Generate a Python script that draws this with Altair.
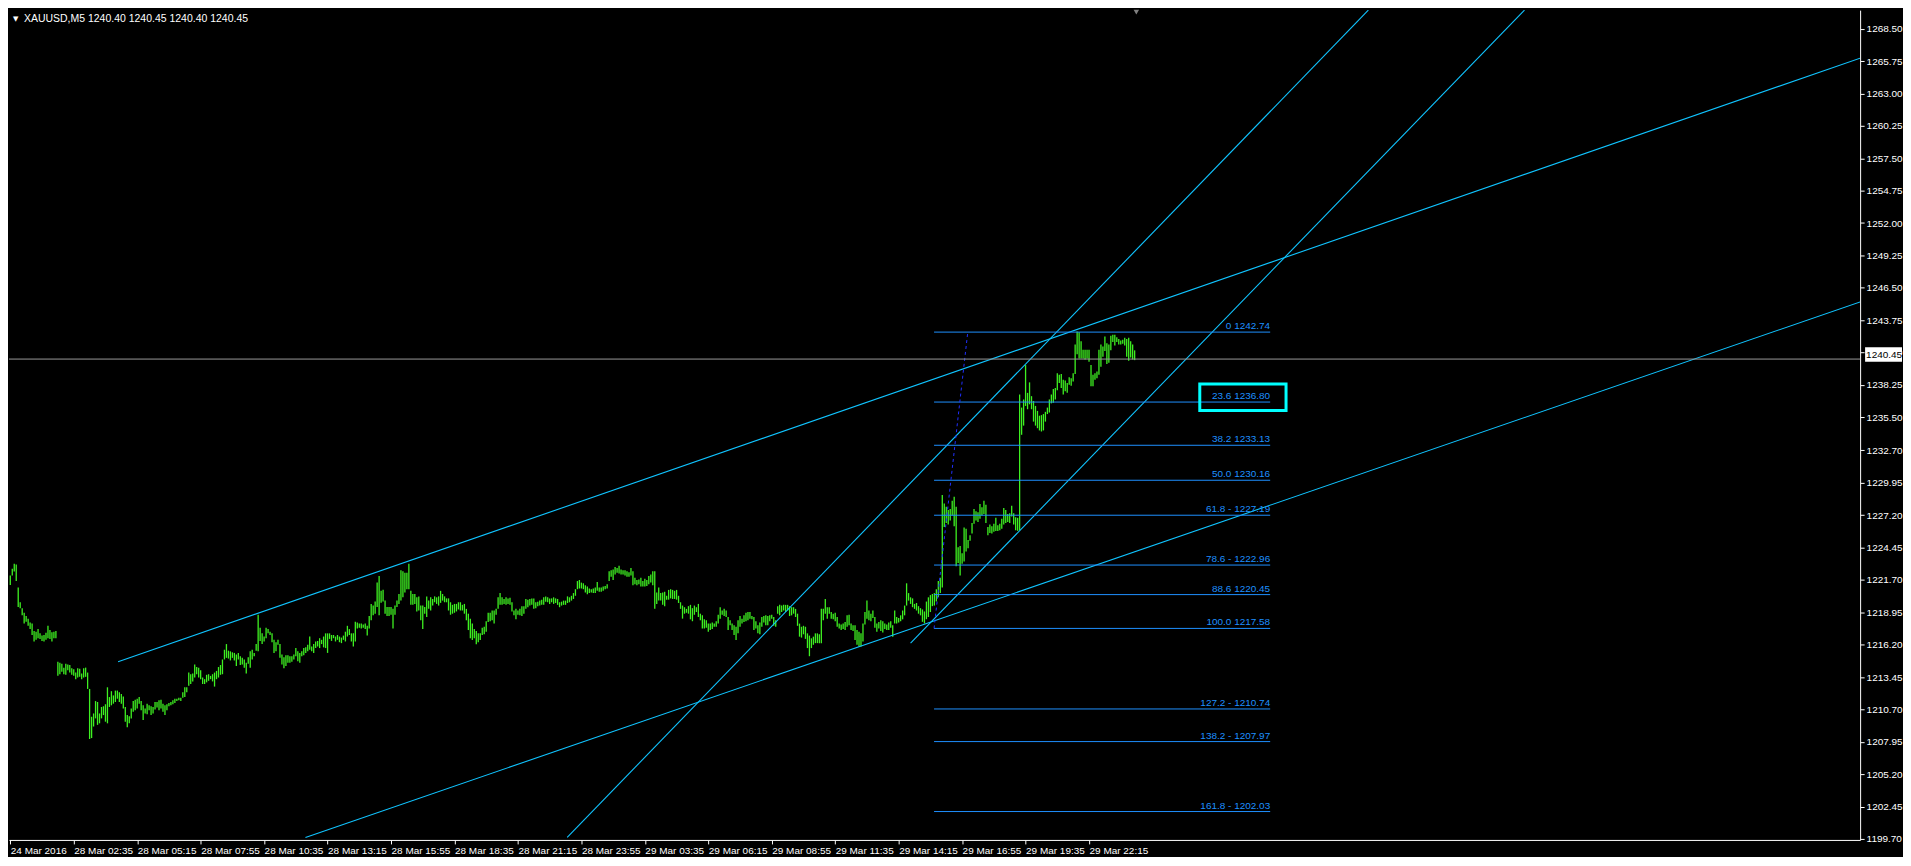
import altair as alt
import pandas as pd

# ---------------- data ----------------
highs = [
    1222.08, 1222.64, 1223.08, 1223.00, 1221.05, 1219.80, 1219.30, 1218.91, 1218.64, 1218.41,
    1218.08, 1218.00, 1217.36, 1217.30, 1217.52, 1217.16, 1216.97, 1217.02, 1217.22, 1217.80,
    1217.44, 1217.25, 1217.30, 1217.36, 1214.75, 1214.66, 1214.58, 1214.25, 1214.58, 1214.52,
    1214.47, 1214.19, 1214.11, 1213.83, 1214.19, 1214.16, 1213.75, 1214.19, 1214.25, 1213.83,
    1212.44, 1210.08, 1210.36, 1211.41, 1211.33, 1210.36, 1210.91, 1210.97, 1211.14, 1212.58,
    1211.75, 1212.25, 1211.89, 1212.30, 1212.30, 1212.16, 1212.02, 1211.80, 1210.91, 1210.22,
    1210.13, 1210.77, 1211.41, 1211.52, 1211.61, 1211.75, 1211.41, 1211.05, 1210.77, 1211.19,
    1211.05, 1210.97, 1210.91, 1211.33, 1211.33, 1211.47, 1211.52, 1211.19, 1211.05, 1211.14,
    1211.25, 1211.33, 1211.47, 1211.61, 1211.61, 1211.69, 1211.69, 1212.16, 1212.58, 1212.58,
    1213.83, 1213.69, 1213.75, 1214.52, 1214.30, 1214.25, 1214.02, 1213.41, 1213.27, 1213.64,
    1213.69, 1213.55, 1213.69, 1213.83, 1213.97, 1214.30, 1214.47, 1214.94, 1215.77, 1216.25,
    1215.69, 1215.63, 1215.55, 1215.50, 1215.36, 1215.50, 1215.22, 1215.08, 1214.94, 1214.66,
    1215.13, 1215.63, 1215.77, 1215.50, 1216.25, 1218.75, 1217.64, 1217.16, 1216.89, 1217.64,
    1217.52, 1217.30, 1217.16, 1216.61, 1216.41, 1216.61, 1216.25, 1215.36, 1215.13, 1215.30,
    1215.30, 1215.22, 1215.22, 1215.36, 1215.91, 1215.63, 1215.50, 1215.63, 1215.91, 1215.97,
    1216.19, 1216.89, 1216.05, 1216.25, 1216.47, 1216.52, 1216.75, 1216.61, 1216.89, 1217.16,
    1217.16, 1217.16, 1217.02, 1217.02, 1216.89, 1217.02, 1216.89, 1216.80, 1216.97, 1217.30,
    1217.80, 1217.52, 1217.16, 1217.16, 1218.14, 1218.08, 1218.00, 1218.00, 1217.91, 1218.00,
    1217.80, 1218.64, 1219.66, 1219.52, 1219.86, 1221.47, 1222.02, 1220.77, 1220.86, 1219.94,
    1219.39, 1219.39, 1219.39, 1219.25, 1219.52, 1219.94, 1220.50, 1222.52, 1222.44, 1222.30,
    1222.30, 1223.08, 1220.77, 1220.50, 1220.50, 1220.22, 1220.30, 1219.52, 1219.52, 1219.39,
    1220.30, 1219.94, 1220.22, 1220.08, 1220.30, 1220.22, 1220.30, 1220.77, 1220.50, 1220.30,
    1220.13, 1220.13, 1219.80, 1219.58, 1219.66, 1219.66, 1219.80, 1219.80, 1219.58, 1219.66,
    1219.24, 1218.83, 1218.41, 1217.99, 1217.52, 1217.35, 1217.16, 1217.16, 1217.63, 1217.72,
    1218.19, 1218.91, 1218.91, 1219.10, 1219.10, 1219.24, 1220.22, 1220.58, 1220.22, 1220.08,
    1220.22, 1220.13, 1220.19, 1219.80, 1219.10, 1219.24, 1219.10, 1219.24, 1219.47, 1219.47,
    1220.08, 1220.02, 1220.08, 1220.13, 1220.13, 1219.80, 1219.85, 1219.94, 1220.02, 1220.22,
    1220.30, 1220.22, 1220.13, 1220.13, 1220.22, 1220.13, 1220.08, 1219.80, 1219.85, 1219.94,
    1219.94, 1220.30, 1220.22, 1220.35, 1220.58, 1220.91, 1221.60, 1221.69, 1221.47, 1221.41,
    1221.24, 1221.13, 1220.97, 1220.91, 1220.97, 1221.05, 1221.52, 1221.05, 1221.05, 1221.13,
    1221.19, 1221.33, 1222.44, 1222.52, 1222.58, 1222.80, 1222.72, 1222.91, 1222.58, 1222.52,
    1222.52, 1222.44, 1222.35, 1222.72, 1222.44, 1221.88, 1221.69, 1221.74, 1221.88, 1221.60,
    1221.80, 1221.69, 1222.02, 1222.16, 1222.44, 1222.44, 1220.63, 1221.05, 1220.58, 1220.63,
    1220.69, 1220.35, 1220.85, 1220.91, 1220.85, 1220.77, 1220.85, 1220.35, 1219.80, 1219.52,
    1219.38, 1219.24, 1219.47, 1219.58, 1219.30, 1219.52, 1219.38, 1219.66, 1218.83, 1218.69,
    1218.35, 1218.27, 1217.99, 1217.99, 1218.08, 1217.99, 1218.19, 1218.74, 1219.38, 1219.10,
    1219.24, 1219.10, 1218.55, 1218.27, 1217.99, 1217.85, 1217.72, 1218.27, 1218.63, 1218.41,
    1218.69, 1218.91, 1218.97, 1218.97, 1218.63, 1218.55, 1218.19, 1217.85, 1218.08, 1218.55,
    1218.63, 1218.69, 1218.63, 1218.69, 1218.74, 1218.55, 1218.27, 1219.47, 1219.58, 1219.52,
    1219.58, 1219.58, 1219.58, 1219.47, 1219.38, 1219.38, 1219.24, 1218.83, 1217.99, 1217.72,
    1217.80, 1217.72, 1217.16, 1216.97, 1216.74, 1216.88, 1217.16, 1217.16, 1217.08, 1219.24,
    1219.24, 1220.08, 1219.38, 1219.38, 1218.97, 1218.83, 1218.91, 1218.55, 1217.99, 1217.91,
    1217.99, 1218.13, 1218.69, 1218.74, 1217.99, 1217.85, 1217.85, 1217.44, 1217.30, 1217.16,
    1217.99, 1218.97, 1219.94, 1219.10, 1218.83, 1219.10, 1218.55, 1217.99, 1218.13, 1218.27,
    1218.19, 1217.99, 1217.91, 1218.08, 1218.19, 1217.85, 1219.10, 1218.55, 1218.47, 1218.69,
    1219.10, 1219.52, 1221.41, 1220.58, 1220.22, 1220.13, 1219.66, 1219.74, 1219.47, 1219.30,
    1219.19, 1219.02, 1219.86, 1220.22, 1220.41, 1220.50, 1220.58, 1220.91, 1221.61, 1221.89,
    1228.91, 1228.19, 1227.91, 1227.64, 1227.72, 1228.41, 1228.75, 1227.91, 1224.47, 1224.58,
    1223.97, 1226.14, 1226.05, 1225.08, 1225.50, 1226.52, 1227.72, 1227.52, 1227.44, 1228.14,
    1227.86, 1228.41, 1228.08, 1226.19, 1226.41, 1226.25, 1226.47, 1226.97, 1226.33, 1226.47,
    1226.89, 1227.80, 1227.64, 1227.30, 1227.36, 1228.00, 1227.36, 1227.02, 1226.97, 1237.44,
    1236.33, 1237.02, 1239.94, 1237.58, 1238.47, 1237.30, 1236.89, 1236.47, 1236.05, 1235.64,
    1235.69, 1235.78, 1235.97, 1236.33, 1237.02, 1237.44, 1237.91, 1238.00, 1239.25, 1239.11,
    1239.19, 1238.69, 1238.64, 1238.41, 1238.91, 1238.83, 1239.25, 1241.69, 1242.80, 1242.72,
    1241.97, 1241.25, 1241.25, 1241.25, 1241.25, 1239.94, 1239.11, 1239.25, 1239.39, 1241.25,
    1241.69, 1241.52, 1242.36, 1241.80, 1241.69, 1242.44, 1242.52, 1242.52, 1242.30, 1242.16,
    1242.03, 1242.08, 1242.25, 1242.16, 1242.25, 1241.97, 1241.69, 1241.19,
]
lows = [
    1221.27, 1222.08, 1222.41, 1221.61, 1219.39, 1219.30, 1218.69, 1218.00, 1218.14, 1217.80,
    1217.52, 1217.02, 1216.47, 1216.61, 1216.75, 1216.69, 1216.52, 1216.47, 1216.61, 1216.75,
    1216.69, 1216.47, 1216.75, 1216.75, 1213.55, 1213.69, 1213.91, 1213.69, 1213.64, 1214.02,
    1213.83, 1213.64, 1213.55, 1213.27, 1213.41, 1213.47, 1213.27, 1213.41, 1213.47, 1212.44,
    1208.19, 1208.27, 1209.25, 1209.94, 1209.39, 1209.52, 1209.94, 1210.22, 1209.66, 1209.52,
    1210.91, 1211.05, 1211.19, 1211.33, 1211.61, 1211.33, 1211.19, 1210.77, 1209.66, 1209.19,
    1209.52, 1209.94, 1210.50, 1210.63, 1210.77, 1211.19, 1210.63, 1209.80, 1210.36, 1210.30,
    1210.63, 1210.22, 1210.36, 1210.69, 1210.86, 1210.63, 1210.77, 1210.50, 1210.22, 1210.63,
    1210.97, 1211.05, 1211.14, 1211.25, 1211.41, 1211.47, 1211.41, 1211.69, 1211.75, 1212.16,
    1212.72, 1212.86, 1213.08, 1213.41, 1213.69, 1213.41, 1213.27, 1212.86, 1212.86, 1213.00,
    1213.13, 1213.27, 1213.08, 1212.64, 1213.27, 1213.41, 1213.64, 1213.69, 1214.94, 1215.08,
    1215.02, 1214.86, 1215.08, 1214.86, 1214.38, 1214.94, 1214.47, 1214.52, 1214.25, 1213.75,
    1214.58, 1214.25, 1214.94, 1215.22, 1215.69, 1215.63, 1216.52, 1216.25, 1216.47, 1216.75,
    1217.16, 1217.02, 1216.41, 1215.50, 1215.63, 1216.19, 1215.08, 1214.52, 1214.19, 1214.38,
    1214.66, 1214.66, 1214.75, 1214.94, 1215.22, 1214.80, 1214.66, 1215.22, 1215.30, 1215.50,
    1215.63, 1215.77, 1215.63, 1215.50, 1215.91, 1216.05, 1215.91, 1216.25, 1215.97, 1215.91,
    1215.50, 1216.69, 1216.52, 1216.75, 1216.47, 1216.61, 1216.41, 1216.33, 1216.61, 1216.47,
    1216.89, 1217.02, 1216.47, 1216.05, 1216.47, 1217.58, 1217.64, 1217.58, 1217.64, 1217.52,
    1216.97, 1217.58, 1218.27, 1218.69, 1218.83, 1219.39, 1218.69, 1219.75, 1219.86, 1218.83,
    1218.64, 1218.64, 1218.75, 1217.58, 1218.75, 1219.39, 1219.66, 1219.94, 1220.22, 1220.63,
    1220.91, 1220.91, 1219.58, 1219.58, 1219.66, 1219.02, 1219.11, 1218.27, 1217.52, 1218.83,
    1218.55, 1219.25, 1219.11, 1219.52, 1219.80, 1219.66, 1219.52, 1219.75, 1219.94, 1219.80,
    1219.80, 1219.10, 1218.74, 1218.83, 1218.91, 1219.02, 1219.19, 1219.10, 1219.10, 1218.83,
    1218.27, 1217.44, 1216.74, 1216.60, 1216.74, 1216.24, 1216.41, 1216.60, 1217.02, 1217.08,
    1217.30, 1218.13, 1218.19, 1218.27, 1217.99, 1218.74, 1219.24, 1219.58, 1219.58, 1219.66,
    1219.58, 1219.66, 1219.58, 1219.02, 1218.69, 1218.35, 1218.74, 1218.69, 1218.63, 1218.83,
    1219.24, 1219.38, 1219.52, 1219.58, 1219.24, 1219.30, 1219.47, 1219.52, 1219.58, 1219.58,
    1219.85, 1219.80, 1219.66, 1219.80, 1219.66, 1219.74, 1219.58, 1219.38, 1219.52, 1219.58,
    1219.58, 1219.74, 1219.80, 1219.94, 1220.08, 1220.35, 1220.91, 1220.97, 1220.97, 1220.91,
    1220.63, 1220.49, 1220.58, 1220.63, 1220.58, 1220.58, 1220.77, 1220.69, 1220.69, 1220.77,
    1220.91, 1220.97, 1221.60, 1221.97, 1221.69, 1222.16, 1222.30, 1222.24, 1222.16, 1222.16,
    1222.08, 1221.97, 1221.97, 1222.08, 1221.24, 1221.33, 1221.24, 1221.33, 1221.13, 1221.13,
    1221.13, 1221.19, 1221.33, 1221.47, 1221.24, 1219.24, 1219.66, 1219.94, 1219.94, 1219.58,
    1219.47, 1220.02, 1220.02, 1220.13, 1220.08, 1220.08, 1220.02, 1219.74, 1219.24, 1218.41,
    1218.83, 1218.91, 1218.83, 1218.35, 1218.19, 1218.74, 1218.97, 1218.55, 1218.27, 1217.58,
    1217.58, 1217.63, 1217.30, 1217.44, 1217.52, 1217.72, 1217.72, 1217.99, 1218.41, 1218.74,
    1218.63, 1218.55, 1217.44, 1217.85, 1217.44, 1217.02, 1216.60, 1217.16, 1217.72, 1217.99,
    1218.13, 1218.19, 1218.27, 1218.41, 1218.35, 1217.44, 1217.58, 1217.16, 1217.08, 1217.72,
    1218.08, 1217.85, 1217.85, 1218.19, 1218.41, 1217.80, 1217.72, 1218.83, 1218.69, 1218.97,
    1219.10, 1218.97, 1219.10, 1218.63, 1218.69, 1218.83, 1218.55, 1217.80, 1216.88, 1216.80,
    1217.08, 1216.69, 1215.91, 1215.22, 1215.91, 1216.19, 1216.33, 1216.33, 1216.33, 1216.33,
    1218.27, 1218.83, 1218.41, 1218.83, 1218.41, 1218.35, 1218.19, 1217.72, 1217.58, 1217.44,
    1217.52, 1217.44, 1217.72, 1217.85, 1217.44, 1217.35, 1216.60, 1216.19, 1216.05, 1216.05,
    1216.47, 1217.91, 1218.41, 1218.27, 1218.19, 1218.47, 1217.63, 1217.30, 1217.58, 1217.35,
    1217.24, 1217.52, 1217.44, 1217.44, 1217.63, 1216.88, 1217.99, 1217.99, 1218.08, 1218.19,
    1218.35, 1218.69, 1219.52, 1219.94, 1219.66, 1219.38, 1219.24, 1219.10, 1218.83, 1218.69,
    1218.14, 1218.00, 1218.36, 1218.55, 1218.97, 1219.47, 1219.52, 1219.86, 1220.22, 1220.58,
    1221.05, 1226.19, 1226.52, 1226.41, 1226.75, 1227.16, 1226.25, 1222.86, 1223.14, 1222.08,
    1223.08, 1223.27, 1224.11, 1224.39, 1225.02, 1225.64, 1226.47, 1226.75, 1226.61, 1226.89,
    1227.16, 1227.30, 1226.52, 1225.50, 1225.69, 1225.64, 1225.78, 1225.86, 1225.86, 1225.91,
    1226.05, 1226.41, 1226.52, 1226.61, 1226.52, 1227.08, 1226.41, 1225.91, 1225.86, 1225.91,
    1234.02, 1234.80, 1236.47, 1236.19, 1236.61, 1236.19, 1235.14, 1234.80, 1234.58, 1234.39,
    1234.30, 1234.39, 1235.14, 1235.78, 1235.91, 1236.69, 1236.75, 1237.02, 1237.80, 1238.41,
    1238.00, 1237.44, 1237.72, 1237.58, 1238.27, 1238.19, 1238.55, 1239.19, 1240.86, 1240.50,
    1240.50, 1240.50, 1240.41, 1240.50, 1240.22, 1238.14, 1238.14, 1238.69, 1238.83, 1239.11,
    1239.80, 1240.64, 1241.14, 1240.03, 1240.14, 1241.19, 1241.89, 1241.61, 1241.89, 1241.69,
    1241.69, 1241.75, 1241.61, 1240.64, 1240.30, 1240.58, 1240.41, 1240.36,
]

time_labels = [
    "24 Mar 2016", "28 Mar 02:35", "28 Mar 05:15", "28 Mar 07:55", "28 Mar 10:35",
    "28 Mar 13:15", "28 Mar 15:55", "28 Mar 18:35", "28 Mar 21:15", "28 Mar 23:55",
    "29 Mar 03:35", "29 Mar 06:15", "29 Mar 08:55", "29 Mar 11:35", "29 Mar 14:15",
    "29 Mar 16:55", "29 Mar 19:35", "29 Mar 22:15",
]
bars_per_label = 32

price_ticks = [
    1268.50, 1265.75, 1263.00, 1260.25, 1257.50, 1254.75, 1252.00, 1249.25, 1246.50,
    1243.75, 1241.00, 1238.25, 1235.50, 1232.70, 1229.95, 1227.20, 1224.45, 1221.70,
    1218.95, 1216.20, 1213.45, 1210.70, 1207.95, 1205.20, 1202.45, 1199.70,
]

fib_prices = [1242.74, 1236.80, 1233.13, 1230.16, 1227.19, 1222.96, 1220.45, 1217.58,
              1210.74, 1207.97, 1202.03]
fib_labels = ["0 1242.74", "23.6 1236.80", "38.2 1233.13", "50.0 1230.16", "61.8 - 1227.19",
              "78.6 - 1222.96", "88.6 1220.45", "100.0 1217.58", "127.2 - 1210.74",
              "138.2 - 1207.97", "161.8 -  1202.03"]
fib_from_bar = 465.85
fib_to_bar = 635.35

# trend lines: (bar index, price) end points
trend_ids = ["upper", "upper", "lower", "lower", "steepA", "steepA", "steepB", "steepB"]
trend_bar = [54.35, 932.85, 148.85, 932.85, 280.85, 684.85, 454.0, 763.6]
trend_price = [1214.75, 1266.00, 1199.83, 1245.30, 1199.83, 1270.08, 1216.33, 1270.08]

fib_link_bar = [465.85, 482.85]
fib_link_price = [1217.58, 1242.74]

current_price = 1240.45
box_bars = [599.85, 643.35]
box_prices = [1236.08, 1238.33]

title_text = "XAUUSD,M5  1240.40 1240.45 1240.40 1240.45"

x_domain = [-0.65, 932.85]
y_domain = [1199.62, 1270.08]

# ---------------- chart ----------------
W, H = 1856, 832
FONT = "Liberation Sans"

n = min(len(highs), len(lows))
bars = pd.DataFrame({"i": list(range(n)), "high": highs[:n], "low": lows[:n]})

label_expr = "[" + ",".join("'" + s + "'" for s in time_labels) + "][round(datum.value/%d)]" % bars_per_label
xscale = alt.Scale(domain=x_domain, nice=False, zero=False)
yscale = alt.Scale(domain=y_domain, nice=False, zero=False)
xaxis = alt.Axis(values=[bars_per_label * k for k in range(len(time_labels))], labelExpr=label_expr,
                 title=None, orient="bottom", labelAlign="left", labelBaseline="top",
                 tickSize=4, labelPadding=2, labelOverlap=False, labelFlush=False, grid=False)
yaxis = alt.Axis(values=price_ticks, format=".2f", title=None, orient="right", labelAlign="left",
                 tickSize=4, labelPadding=2, labelOverlap=False, labelFlush=False, grid=False)


def X(f):
    return alt.X(f, type="quantitative", scale=xscale, axis=xaxis)


def Y(f):
    return alt.Y(f, type="quantitative", scale=yscale, axis=yaxis)


bar_layer = alt.Chart(bars).mark_rule(color="#3ef021", strokeWidth=1.3).encode(
    x=X("i"), y=Y("low"), y2="high")

trend_df = pd.DataFrame({"id": trend_ids, "i": trend_bar, "p": trend_price})
trend_layer = alt.Chart(trend_df).mark_line(color="#10c4ff", strokeWidth=1.1, clip=True).encode(
    x=X("i"), y=Y("p"), detail="id:N")

fib_df = pd.DataFrame({"p": fib_prices, "lab": fib_labels,
                       "a": [fib_from_bar] * len(fib_prices), "b": [fib_to_bar] * len(fib_prices)})
fib_lines = alt.Chart(fib_df).mark_rule(color="#1E90FF", strokeWidth=1).encode(
    x=X("a"), x2="b", y=Y("p"))
fib_text = alt.Chart(fib_df).mark_text(color="#1E90FF", font=FONT, fontSize=10, align="right",
                                       baseline="alphabetic", dy=-3).encode(
    x=X("b"), y=Y("p"), text="lab:N")

link_df = pd.DataFrame({"i": fib_link_bar, "p": fib_link_price})
link_layer = alt.Chart(link_df).mark_line(color="#2030ff", strokeWidth=1, strokeDash=[3, 3]).encode(
    x=X("i"), y=Y("p"))

cur_df = pd.DataFrame({"p": [current_price], "lab": ["%.2f" % current_price]})
cur_line = alt.Chart(cur_df).mark_rule(color="#9a9a9a", strokeWidth=1).encode(
    x=alt.value(0), x2=alt.value(W), y=Y("p"))
cur_box = alt.Chart(pd.DataFrame({"top": [current_price + 1.0], "bot": [current_price - 0.23]})).mark_rect(
    color="white").encode(x=alt.value(W + 5), x2=alt.value(W + 42), y=Y("top"), y2="bot")
cur_text = alt.Chart(cur_df).mark_text(color="black", font=FONT, fontSize=10, align="left",
                                       baseline="middle", dy=-4).encode(
    x=alt.value(W + 6), y=Y("p"), text="lab:N")

box_df = pd.DataFrame({"a": [box_bars[0]], "b": [box_bars[1]], "lo": [box_prices[0]], "hi": [box_prices[1]]})
box_layer = alt.Chart(box_df).mark_rect(filled=False, stroke="#00FFFF", strokeWidth=3).encode(
    x=X("a"), x2="b", y=Y("lo"), y2="hi")

marker = alt.Chart(pd.DataFrame({"i": [567.85]})).mark_point(
    shape="triangle-down", filled=True, color="#808080", size=30, opacity=1).encode(
    x=X("i"), y=alt.value(2))

title_df = pd.DataFrame({"t": [title_text]})
title_layer = alt.Chart(title_df).mark_text(color="white", font=FONT, fontSize=10.5, align="left",
                                            baseline="alphabetic").encode(
    x=alt.value(15), y=alt.value(12), text="t:N")
tri_layer = alt.Chart(pd.DataFrame({"t": ["▼"]})).mark_text(color="white", font="DejaVu Sans", fontSize=7,
                                                              align="left", baseline="alphabetic").encode(
    x=alt.value(4), y=alt.value(11), text="t:N")

chart = alt.layer(
    bar_layer, trend_layer, fib_lines, fib_text, link_layer, cur_line, box_layer,
    cur_box, cur_text, marker, title_layer, tri_layer,
).properties(
    width=W, height=H, background="black", padding=0,
).configure_view(stroke=None).configure_axis(
    domainColor="white", tickColor="white", labelColor="white", labelFont=FONT,
    labelFontSize=10, domainWidth=1, tickWidth=1, grid=False,
)

chart.save("out.html", embed_options={"renderer": "svg", "actions": False})
